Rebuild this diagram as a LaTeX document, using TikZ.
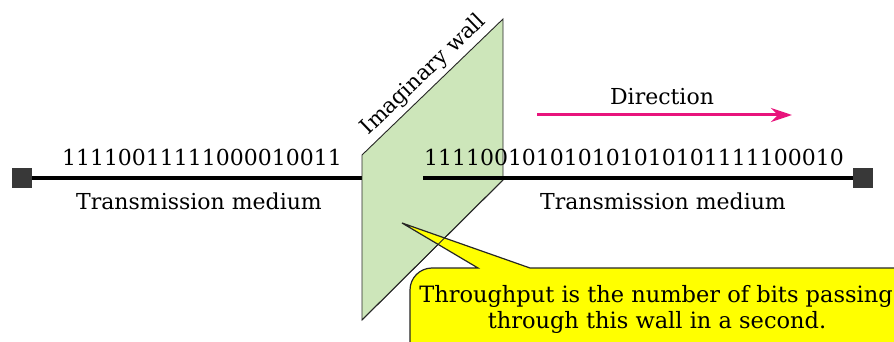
\documentclass[tikz,border=0pt]{standalone}
\usepackage{fontspec}
\setmainfont{DejaVu Serif}
\usetikzlibrary{arrows.meta}
\definecolor{wallgreen}{RGB}{205,230,186}
\definecolor{dirpink}{RGB}{232,20,124}
\definecolor{callyellow}{RGB}{255,255,0}
\begin{document}
\begin{tikzpicture}[x=1pt,y=-1pt,
  lbl/.style={font=\fontsize{22}{26}\selectfont, inner sep=0pt, anchor=base},
  medium/.style={line width=4pt, black},
  term/.style={fill=black!78, minimum size=20pt, inner sep=0pt},
  wall/.style={fill=wallgreen, draw=black!85, line width=0.9pt},
  ]
\useasboundingbox (0,0) rectangle (894,342);
\clip (0,0) rectangle (894,342);
% wall corners
\coordinate (w1) at (362,155);
\coordinate (w2) at (503,19);
\coordinate (w3) at (503,180);
\coordinate (w4) at (362,320);
% left medium
\node[term] (lsq) at (22,178) {};
\coordinate (lend) at (362,178);
\draw[medium] (lsq.east) -- (lend);
% wall
\path[wall] (w1) -- (w2) -- (w3) -- (w4) -- cycle;
\path (w1) -- (w2) node[pos=0.51, sloped, above=4pt, inner sep=0pt, font=\fontsize{21.5}{24}\selectfont] (wl) {Imaginary wall};
% right medium
\node[term] (rsq) at (863,178) {};
\coordinate (rstart) at (423,178);
\draw[medium] (rstart) -- (rsq.west);
% texts
\node[lbl] (bitsl) at (202,165) {11110011111000010011};
\node[lbl] (tml) at (199,209) {Transmission medium};
\node[lbl] (bitsr) at (634,165) {111100101010101010101111100010};
\node[lbl] (tmr) at (663,209) {Transmission medium};
\node[lbl] (dir) at (662,105) {Direction};
\coordinate (da) at (537,115);
\coordinate (db) at (792,115);
\draw[dirpink, line width=3pt, -{Stealth[length=21pt,width=14pt]}] (da) -- (db);
% callout
\draw[fill=callyellow, draw=black!85, line width=1.2pt]
  (478,268) [sharp corners] -- (402,223) -- (530,268) [rounded corners=22pt]
  -- (915,268) -- (915,365) -- (410,365) -- (410,268) [sharp corners] -- cycle;
\draw[black!85, line width=0.9pt] (w3) -- (w4);
\node[lbl, font=\fontsize{22.5}{26}\selectfont] (c1) at (656,302) {Throughput is the number of bits passing};
\node[lbl, font=\fontsize{22.5}{26}\selectfont] (c2) at (657,328) {through this wall in a second.};
\end{tikzpicture}
\end{document}
